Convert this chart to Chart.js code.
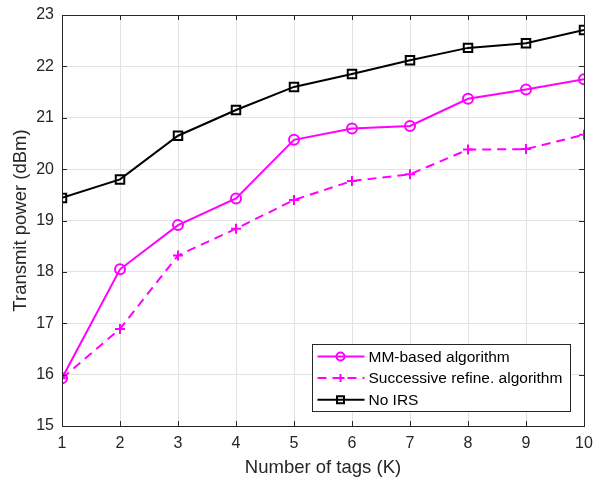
<!DOCTYPE html>
<html>
<head>
<meta charset="utf-8">
<script src="https://cdn.jsdelivr.net/npm/chart.js@4.4.1/dist/chart.umd.min.js"></script>
<style>
  html, body { margin: 0; padding: 0; background: #fff; }
  #wrap { width: 594px; height: 483px; }
</style>
</head>
<body>
<div id="wrap"><canvas id="chart"></canvas></div>
<script>
// data
const tagCounts = [1, 2, 3, 4, 5, 6, 7, 8, 9, 10];
const mmPower = [15.93, 18.05, 18.91, 19.43, 20.57, 20.79, 20.84, 21.37, 21.55, 21.75];
const srPower = [15.93, 16.89, 18.32, 18.84, 19.40, 19.77, 19.90, 20.38, 20.39, 20.67];
const noIrsPower = [19.44, 19.80, 20.65, 21.15, 21.60, 21.85, 22.12, 22.36, 22.45, 22.71];
const yTicks = [15, 16, 17, 18, 19, 20, 21, 22, 23];
const seriesNames = ['MM-based algorithm', 'Successive refine. algorithm', 'No IRS'];

const FONT = '"Liberation Sans", Arial, Helvetica, sans-serif';
const MAGENTA = '#ff00ff';

function toPoints(ys) {
    return tagCounts.map((x, i) => ({ x: x, y: ys[i] }));
}

// draw a marker shape by hand (used in the legend)
function drawMarker(ctx, style, x, y, color) {
    ctx.save();
    ctx.strokeStyle = color;
    ctx.lineWidth = 2;
    ctx.setLineDash([]);
    ctx.beginPath();
    if (style === 'circle') {
        ctx.arc(x, y, 4, 0, Math.PI * 2);
    } else if (style === 'cross') {
        ctx.moveTo(x - 4, y); ctx.lineTo(x + 4, y);
        ctx.moveTo(x, y - 4); ctx.lineTo(x, y + 4);
    } else {
        ctx.rect(x - 3.5, y - 3.5, 7, 7);
    }
    ctx.stroke();
    ctx.restore();
}

// box around the axes, inward ticks, legend inside the plot
const frame = {
    id: 'frame',
    afterDatasetsDraw(chart) {
        const ctx = chart.ctx;
        const a = chart.chartArea;
        const xs = chart.scales.x, ys = chart.scales.y;
        ctx.save();
        ctx.strokeStyle = '#262626';
        ctx.lineWidth = 1;
        ctx.setLineDash([]);
        ctx.beginPath();
        tagCounts.forEach(v => {
            const px = Math.round(xs.getPixelForValue(v)) + 0.5;
            ctx.moveTo(px, a.bottom); ctx.lineTo(px, a.bottom - 5);
            ctx.moveTo(px, a.top); ctx.lineTo(px, a.top + 5);
        });
        yTicks.forEach(v => {
            const py = Math.round(ys.getPixelForValue(v)) + 0.5;
            ctx.moveTo(a.left, py); ctx.lineTo(a.left + 5, py);
            ctx.moveTo(a.right, py); ctx.lineTo(a.right - 5, py);
        });
        ctx.stroke();
        ctx.strokeRect(Math.round(a.left) + 0.5, Math.round(a.top) + 0.5,
                       Math.round(a.right - a.left), Math.round(a.bottom - a.top));

        // legend
        const w = 258, h = 67;
        const lx = Math.round(a.right - 14 - w) + 0.5;
        const ly = Math.round(a.bottom - 15 - h) + 0.5;
        ctx.fillStyle = '#fff';
        ctx.fillRect(lx, ly, w, h);
        ctx.strokeStyle = '#262626';
        ctx.strokeRect(lx, ly, w, h);
        const markers = ['circle', 'cross', 'rect'];
        chart.data.datasets.forEach((ds, i) => {
            const cy = ly + 12 + i * 21.6;
            ctx.strokeStyle = ds.borderColor;
            ctx.lineWidth = 2;
            ctx.setLineDash(ds.borderDash || []);
            ctx.beginPath();
            ctx.moveTo(lx + 5, cy); ctx.lineTo(lx + 52, cy);
            ctx.stroke();
            drawMarker(ctx, markers[i], lx + 28, cy, ds.borderColor);
            ctx.fillStyle = '#000';
            ctx.font = '15.5px ' + FONT;
            ctx.textBaseline = 'middle';
            ctx.textAlign = 'left';
            ctx.fillText(seriesNames[i], lx + 56, cy + 1);
        });
        ctx.restore();
    }
};

new Chart(document.getElementById('chart'), {
    type: 'line',
    data: {
        datasets: [
            {
                label: seriesNames[0],
                data: toPoints(mmPower),
                borderColor: MAGENTA,
                backgroundColor: 'rgba(0,0,0,0)',
                borderWidth: 2,
                pointStyle: 'circle',
                pointRadius: 5,
                pointBorderWidth: 2,
                pointBorderColor: MAGENTA,
                pointBackgroundColor: 'rgba(0,0,0,0)'
            },
            {
                label: seriesNames[1],
                data: toPoints(srPower),
                borderColor: MAGENTA,
                backgroundColor: 'rgba(0,0,0,0)',
                borderWidth: 2,
                borderDash: [9, 6],
                pointStyle: 'cross',
                pointRadius: 5,
                pointBorderWidth: 2,
                pointBorderColor: MAGENTA
            },
            {
                label: seriesNames[2],
                data: toPoints(noIrsPower),
                borderColor: '#000',
                backgroundColor: 'rgba(0,0,0,0)',
                borderWidth: 2,
                pointStyle: 'rect',
                pointRadius: 6,
                pointBorderWidth: 2,
                pointBorderColor: '#000',
                pointBackgroundColor: 'rgba(0,0,0,0)'
            }
        ]
    },
    options: {
        responsive: true,
        maintainAspectRatio: false,
        animation: false,
        layout: { padding: { top: 15, right: 10, left: 6, bottom: 0 } },
        plugins: {
            legend: { display: false },
            tooltip: { enabled: false }
        },
        scales: {
            x: {
                type: 'linear',
                min: 1,
                max: 10,
                afterFit(scale) {
                    scale.height = 57;
                    scale.paddingLeft = 0;
                    scale.paddingRight = 0;
                },
                afterBuildTicks(scale) { scale.ticks = tagCounts.map(v => ({ value: v })); },
                grid: { color: '#e3e3e3', drawTicks: false },
                border: { display: false },
                ticks: { color: '#262626', padding: 8, font: { family: FONT, size: 16 } },
                title: {
                    display: true,
                    text: 'Number of tags (K)',
                    color: '#262626',
                    padding: { top: 1 },
                    font: { family: FONT, size: 18.5 }
                }
            },
            y: {
                min: 15,
                max: 23,
                afterFit(scale) {
                    scale.width = 56;
                    scale.paddingTop = 0;
                    scale.paddingBottom = 0;
                },
                afterBuildTicks(scale) { scale.ticks = yTicks.map(v => ({ value: v })); },
                grid: { color: '#e3e3e3', drawTicks: false },
                border: { display: false },
                ticks: { color: '#262626', padding: 8, font: { family: FONT, size: 16 } },
                title: {
                    display: true,
                    text: 'Transmit power (dBm)',
                    color: '#262626',
                    padding: { bottom: 2 },
                    font: { family: FONT, size: 18.5 }
                }
            }
        }
    },
    plugins: [frame]
});
</script>
</body>
</html>
